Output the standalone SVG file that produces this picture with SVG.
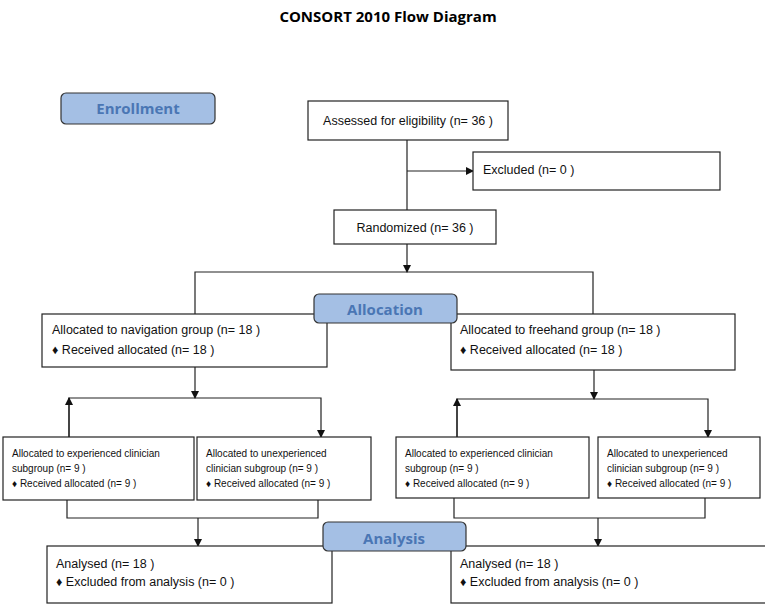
<svg xmlns="http://www.w3.org/2000/svg" width="765" height="604" viewBox="0 0 765 604">
<style>
.b{fill:#fff;stroke:#222;stroke-width:1.2}
.h{fill:#a4bfe4;stroke:#333;stroke-width:1.2}
.ht{font-family:"Open Sans","Liberation Sans",sans-serif;font-weight:bold;font-size:15px;fill:#4a76b4;text-anchor:middle}
.t{font-family:"Liberation Sans",sans-serif;font-size:12.5px;fill:#111}
.s{font-family:"Liberation Sans",sans-serif;font-size:10px;fill:#111}
.c{stroke:#222;stroke-width:1.2;fill:none}
</style>
<defs><marker id="a" markerWidth="8" markerHeight="8" refX="7" refY="4" orient="auto" markerUnits="userSpaceOnUse"><path d="M0,0 L8,4 L0,8z" fill="#111"/></marker></defs>
<rect width="765" height="604" fill="#fff"/>
<text x="388" y="22" text-anchor="middle" font-family="Open Sans,Liberation Sans,sans-serif" font-weight="bold" font-size="15">CONSORT 2010 Flow Diagram</text>
<g id="connectors">
<path class="c" d="M407 140V210" />
<path class="c" d="M407 171H473" marker-end="url(#a)"/>
<path class="c" d="M407 244V272" marker-end="url(#a)"/>
<path class="c" d="M195 314V272H593V314"/>
<path class="c" d="M195 367V398" marker-end="url(#a)"/>
<path class="c" d="M69 437V398H321V437" marker-end="url(#a)"/>
<path class="c" d="M69 437V398" marker-end="url(#a)"/>
<path class="c" d="M594 370V399" marker-end="url(#a)"/>
<path class="c" d="M457 437V399H708V437" marker-end="url(#a)"/>
<path class="c" d="M457 437V399" marker-end="url(#a)"/>
<path class="c" d="M67 500V518H318V500"/>
<path class="c" d="M198 518V546" marker-end="url(#a)"/>
<path class="c" d="M454 498V518H705V498"/>
<path class="c" d="M598 518V546" marker-end="url(#a)"/>
</g>
<g id="enrollment"><rect class="h" x="61" y="93" width="154" height="31" rx="5"/><text class="ht" x="138" y="114">Enrollment</text></g>
<g id="assessed"><rect class="b" x="308" y="101" width="200" height="39"/><text class="t" x="408" y="125" text-anchor="middle">Assessed for eligibility (n= 36 )</text></g>
<g id="excluded"><rect class="b" x="473" y="152" width="247" height="38"/><text class="t" x="483" y="174">Excluded (n= 0 )</text></g>
<g id="randomized"><rect class="b" x="334" y="210" width="162" height="34"/><text class="t" x="415" y="232" text-anchor="middle">Randomized (n= 36 )</text></g>
<g id="nav"><rect class="b" x="42" y="314" width="285" height="53"/><text class="t" x="52" y="334">Allocated to navigation group (n= 18 )</text><text class="t" x="52" y="354">♦ Received allocated (n= 18 )</text></g>
<g id="free"><rect class="b" x="451" y="314" width="284" height="56"/><text class="t" x="460" y="334">Allocated to freehand group (n= 18 )</text><text class="t" x="460" y="354">♦ Received allocated (n= 18 )</text></g>
<g id="allocation"><rect class="h" x="314" y="294" width="143" height="29" rx="5"/><text class="ht" x="385" y="315">Allocation</text></g>
<g id="n-exp"><rect class="b" x="3" y="437" width="191" height="63"/><text class="s" x="12" y="457">Allocated to experienced clinician</text><text class="s" x="12" y="472">subgroup (n= 9 )</text><text class="s" x="12" y="487">♦ Received allocated (n= 9 )</text></g>
<g id="n-unexp"><rect class="b" x="197" y="437" width="174" height="63"/><text class="s" x="206" y="457">Allocated to unexperienced</text><text class="s" x="206" y="472">clinician subgroup (n= 9 )</text><text class="s" x="206" y="487">♦ Received allocated (n= 9 )</text></g>
<g id="f-exp"><rect class="b" x="396" y="437" width="193" height="61"/><text class="s" x="405" y="457">Allocated to experienced clinician</text><text class="s" x="405" y="472">subgroup  (n= 9 )</text><text class="s" x="405" y="487">♦ Received allocated (n= 9 )</text></g>
<g id="f-unexp"><rect class="b" x="598" y="437" width="162" height="61"/><text class="s" x="607" y="457">Allocated to unexperienced</text><text class="s" x="607" y="472">clinician subgroup (n= 9 )</text><text class="s" x="607" y="487">♦ Received allocated (n= 9 )</text></g>
<g id="an-left"><rect class="b" x="47" y="546" width="285" height="57"/><text class="t" x="56" y="568">Analysed (n= 18 )</text><text class="t" x="56" y="586">♦ Excluded from analysis  (n= 0 )</text></g>
<g id="an-right"><rect class="b" x="451" y="546" width="320" height="57"/><text class="t" x="460" y="568">Analysed (n= 18 )</text><text class="t" x="460" y="586">♦ Excluded from analysis (n= 0 )</text></g>
<g id="analysis"><rect class="h" x="323" y="522" width="143" height="29" rx="5"/><text class="ht" x="394" y="544">Analysis</text></g>
</svg>
